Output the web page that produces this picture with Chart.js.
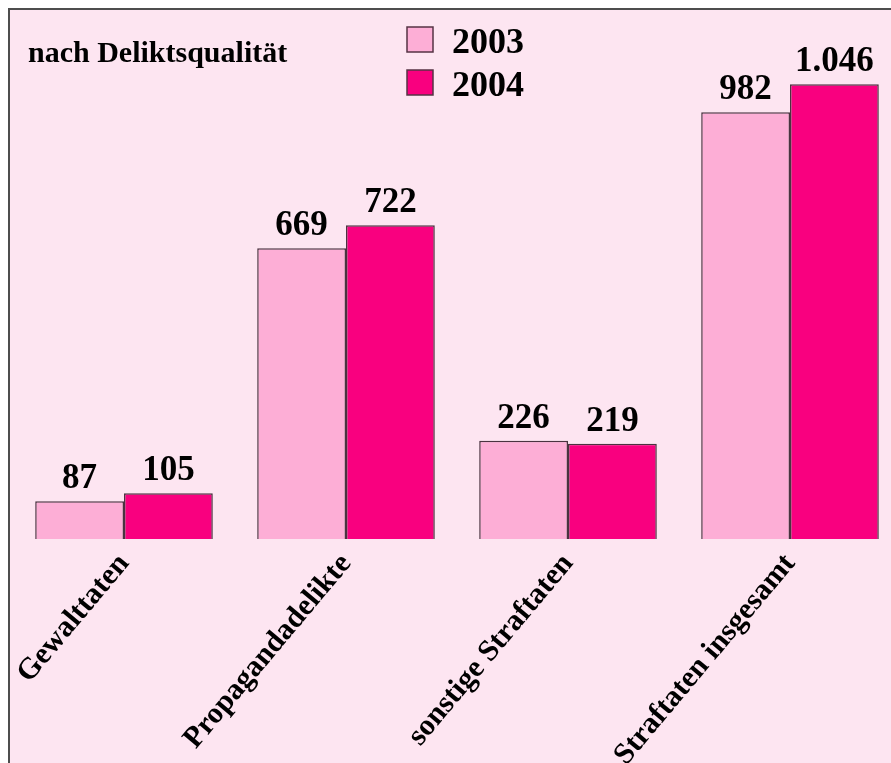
<!DOCTYPE html>
<html>
<head>
<meta charset="utf-8">
<script src="https://cdn.jsdelivr.net/npm/chart.js@4"></script>
<style>
  html, body { margin: 0; padding: 0; overflow: hidden; background: #fff; }
  #wrap { position: absolute; left: 0; top: 0; width: 901px; height: 770px; }
</style>
</head>
<body>
<div id="wrap"><canvas id="barChart"></canvas></div>
<script>
const categories = ["Gewalttaten", "Propagandadelikte", "sonstige Straftaten", "Straftaten insgesamt"];
const years = ["2003", "2004"];
const values2003 = [87, 669, 226, 982];
const values2004 = [105, 722, 219, 1046];
const chartTitle = "nach Deliktsqualität";

const serif = "'Liberation Serif', 'Times New Roman', serif";
const pinkBg = '#fde5f1';

function fmt(v) {
  return String(v).replace(/\B(?=(\d{3})+(?!\d))/g, '.');
}

// frame + pink background
const framePlugin = {
  id: 'frame',
  beforeDraw(chart) {
    const c = chart.ctx;
    c.save();
    c.fillStyle = '#ffffff';
    c.fillRect(0, 0, chart.width, chart.height);
    c.fillStyle = pinkBg;
    c.fillRect(9, 9, chart.width, chart.height);
    c.strokeStyle = '#4d4d4d';
    c.lineWidth = 2;
    c.strokeRect(9, 9, chart.width + 20, chart.height + 20);
    c.restore();
  }
};

// value labels, title and legend
const textPlugin = {
  id: 'texts',
  afterDatasetsDraw(chart) {
    const c = chart.ctx;
    c.save();
    c.fillStyle = '#000';
    c.font = "bold 35px " + serif;
    c.textAlign = 'center';
    c.textBaseline = 'alphabetic';
    chart.data.datasets.forEach((ds, di) => {
      chart.getDatasetMeta(di).data.forEach((bar, i) => {
        c.fillText(fmt(ds.data[i]), bar.x, bar.y - 13);
      });
    });

    c.textAlign = 'left';
    c.font = "bold 30px " + serif;
    c.fillText(chartTitle, 28, 62);

    // legend
    c.font = "bold 36px " + serif;
    chart.data.datasets.forEach((ds, di) => {
      const y = 27 + di * 43;
      c.fillStyle = ds.backgroundColor;
      c.fillRect(407, y, 26, 25);
      c.strokeStyle = '#553344';
      c.lineWidth = 1.5;
      c.strokeRect(407, y, 26, 25);
      c.fillStyle = '#000';
      c.fillText(ds.label, 452, y + 26);
    });
    c.restore();
  }
};

const ctx = document.getElementById('barChart').getContext('2d');

let barChart = new Chart(ctx, {
  type: 'bar',
  data: {
    labels: categories,
    datasets: [{
      label: years[0],
      data: values2003,
      backgroundColor: '#fdaed6',
      borderColor: '#4a3340',
      borderWidth: 1.5,
      categoryPercentage: 0.8,
      barPercentage: 1.0
    }, {
      label: years[1],
      data: values2004,
      backgroundColor: '#f9007f',
      borderColor: '#4a3340',
      borderWidth: 1.5,
      categoryPercentage: 0.8,
      barPercentage: 1.0
    }]
  },
  options: {
    responsive: true,
    maintainAspectRatio: false,
    animation: false,
    layout: { padding: { left: 13, right: 0, top: 0, bottom: 0 } },
    plugins: {
      legend: { display: false },
      title: { display: false },
      tooltip: { enabled: false }
    },
    scales: {
      x: {
        grid: { display: false },
        border: { display: false },
        ticks: {
          color: '#000',
          autoSkip: false,
          minRotation: 50,
          maxRotation: 50,
          padding: 0,
          font: { family: serif, size: 30, weight: 'bold' }
        },
        afterFit(scale) { scale.height = 770 - 539; }
      },
      y: {
        display: false,
        min: 0,
        max: 1240
      }
    }
  },
  plugins: [framePlugin, textPlugin]
});
</script>
</body>
</html>
